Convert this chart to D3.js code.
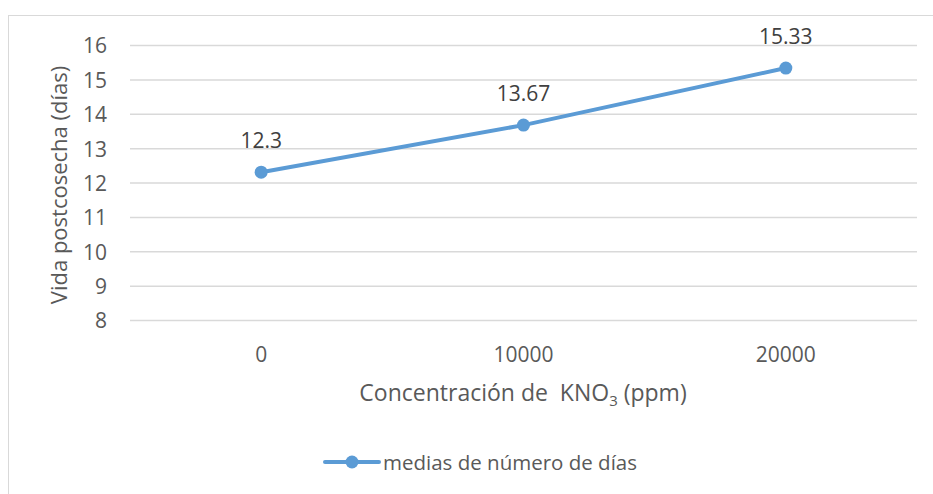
<!DOCTYPE html>
<html>
<head>
<meta charset="utf-8">
<script src="https://cdn.jsdelivr.net/npm/d3@7"></script>
<style>
  html, body { margin: 0; padding: 0; background: #fff; }
  svg { display: block; font-family: "Open Sans", "Noto Sans", sans-serif; }
</style>
</head>
<body>
<svg id="chart" width="933" height="494"></svg>
<script>
// Postharvest life by KNO3 concentration
const categories = ["0", "10000", "20000"];
const seriesName = "medias de número de días";
const values = [12.3, 13.67, 15.33];
const valueLabels = ["12.3", "13.67", "15.33"];
const yTicks = [8, 9, 10, 11, 12, 13, 14, 15, 16];

const svg = d3.select("#chart");
const blue = "#5B9BD5";
const textColor = "#595959";
const gridColor = "#d9d9d9";
const font = "'Open Sans', 'Noto Sans', sans-serif";

// chart frame
svg.append("rect")
  .attr("x", 8.5).attr("y", 15.5)
  .attr("width", 940).attr("height", 500)
  .attr("fill", "#fff").attr("stroke", gridColor).attr("stroke-width", 1);

const plot = { left: 130, right: 917, top: 45, bottom: 320 };

const x = d3.scaleBand().domain(categories).range([plot.left, plot.right]);
const y = d3.scaleLinear().domain([8, 16]).range([plot.bottom, plot.top]);

// horizontal gridlines with tick labels
const yAxis = d3.axisLeft(y).tickValues(yTicks).tickSize(-(plot.right - plot.left)).tickPadding(23).tickFormat(d3.format("d"));
const gy = svg.append("g").attr("transform", `translate(${plot.left},0)`).call(yAxis)
  .attr("font-family", font).attr("font-size", 21);
gy.select(".domain").remove();
gy.selectAll(".tick line").attr("stroke", gridColor).attr("stroke-width", 1.5);
gy.selectAll(".tick text").attr("fill", textColor).attr("dy", "0.38em");

// category labels
const xAxis = d3.axisBottom(x).tickSize(0).tickPadding(27);
const gx = svg.append("g").attr("transform", `translate(0,${plot.bottom})`).call(xAxis)
  .attr("font-family", font).attr("font-size", 21);
gx.select(".domain").remove();
gx.selectAll(".tick text").attr("fill", textColor);

// axis titles
svg.append("text")
  .attr("transform", `translate(67,185) rotate(-90)`)
  .attr("text-anchor", "middle")
  .attr("fill", textColor).style("font-size", "22px")
  .text("Vida postcosecha (días)");

const xt = svg.append("text")
  .attr("x", 523).attr("y", 401)
  .attr("text-anchor", "middle")
  .attr("xml:space", "preserve")
  .style("white-space", "pre")
  .attr("fill", textColor).style("font-size", "23px");
xt.append("tspan").text("Concentración de  KNO");
xt.append("tspan").attr("dy", 5).style("font-size", "15px").text("3");
xt.append("tspan").attr("dy", -5).text(" (ppm)");

// series line and markers
const cx = d => x(d) + x.bandwidth() / 2;
const line = d3.line().x((d, i) => cx(categories[i])).y(d => y(d));
svg.append("path")
  .datum(values)
  .attr("d", line)
  .attr("fill", "none").attr("stroke", blue)
  .attr("stroke-width", 4).attr("stroke-linecap", "round");

svg.selectAll("circle.pt")
  .data(values).enter().append("circle")
  .attr("class", "pt")
  .attr("cx", (d, i) => cx(categories[i]))
  .attr("cy", d => y(d))
  .attr("r", 6.5).attr("fill", blue);

svg.selectAll("text.lbl")
  .data(values).enter().append("text")
  .attr("class", "lbl")
  .attr("x", (d, i) => cx(categories[i]))
  .attr("y", d => y(d) - 24)
  .attr("text-anchor", "middle")
  .attr("fill", "#404040").style("font-size", "21px")
  .text((d, i) => valueLabels[i]);

// legend
const lg = svg.append("g").attr("transform", "translate(325,462)");
lg.append("line").attr("x1", 0).attr("x2", 54).attr("y1", 0).attr("y2", 0)
  .attr("stroke", blue).attr("stroke-width", 4).attr("stroke-linecap", "round");
lg.append("circle").attr("cx", 27).attr("cy", 0).attr("r", 6.5).attr("fill", blue);
lg.append("text").attr("x", 58).attr("y", 7.5)
  .attr("fill", textColor).style("font-size", "20.5px")
  .text(seriesName);
</script>
</body>
</html>
